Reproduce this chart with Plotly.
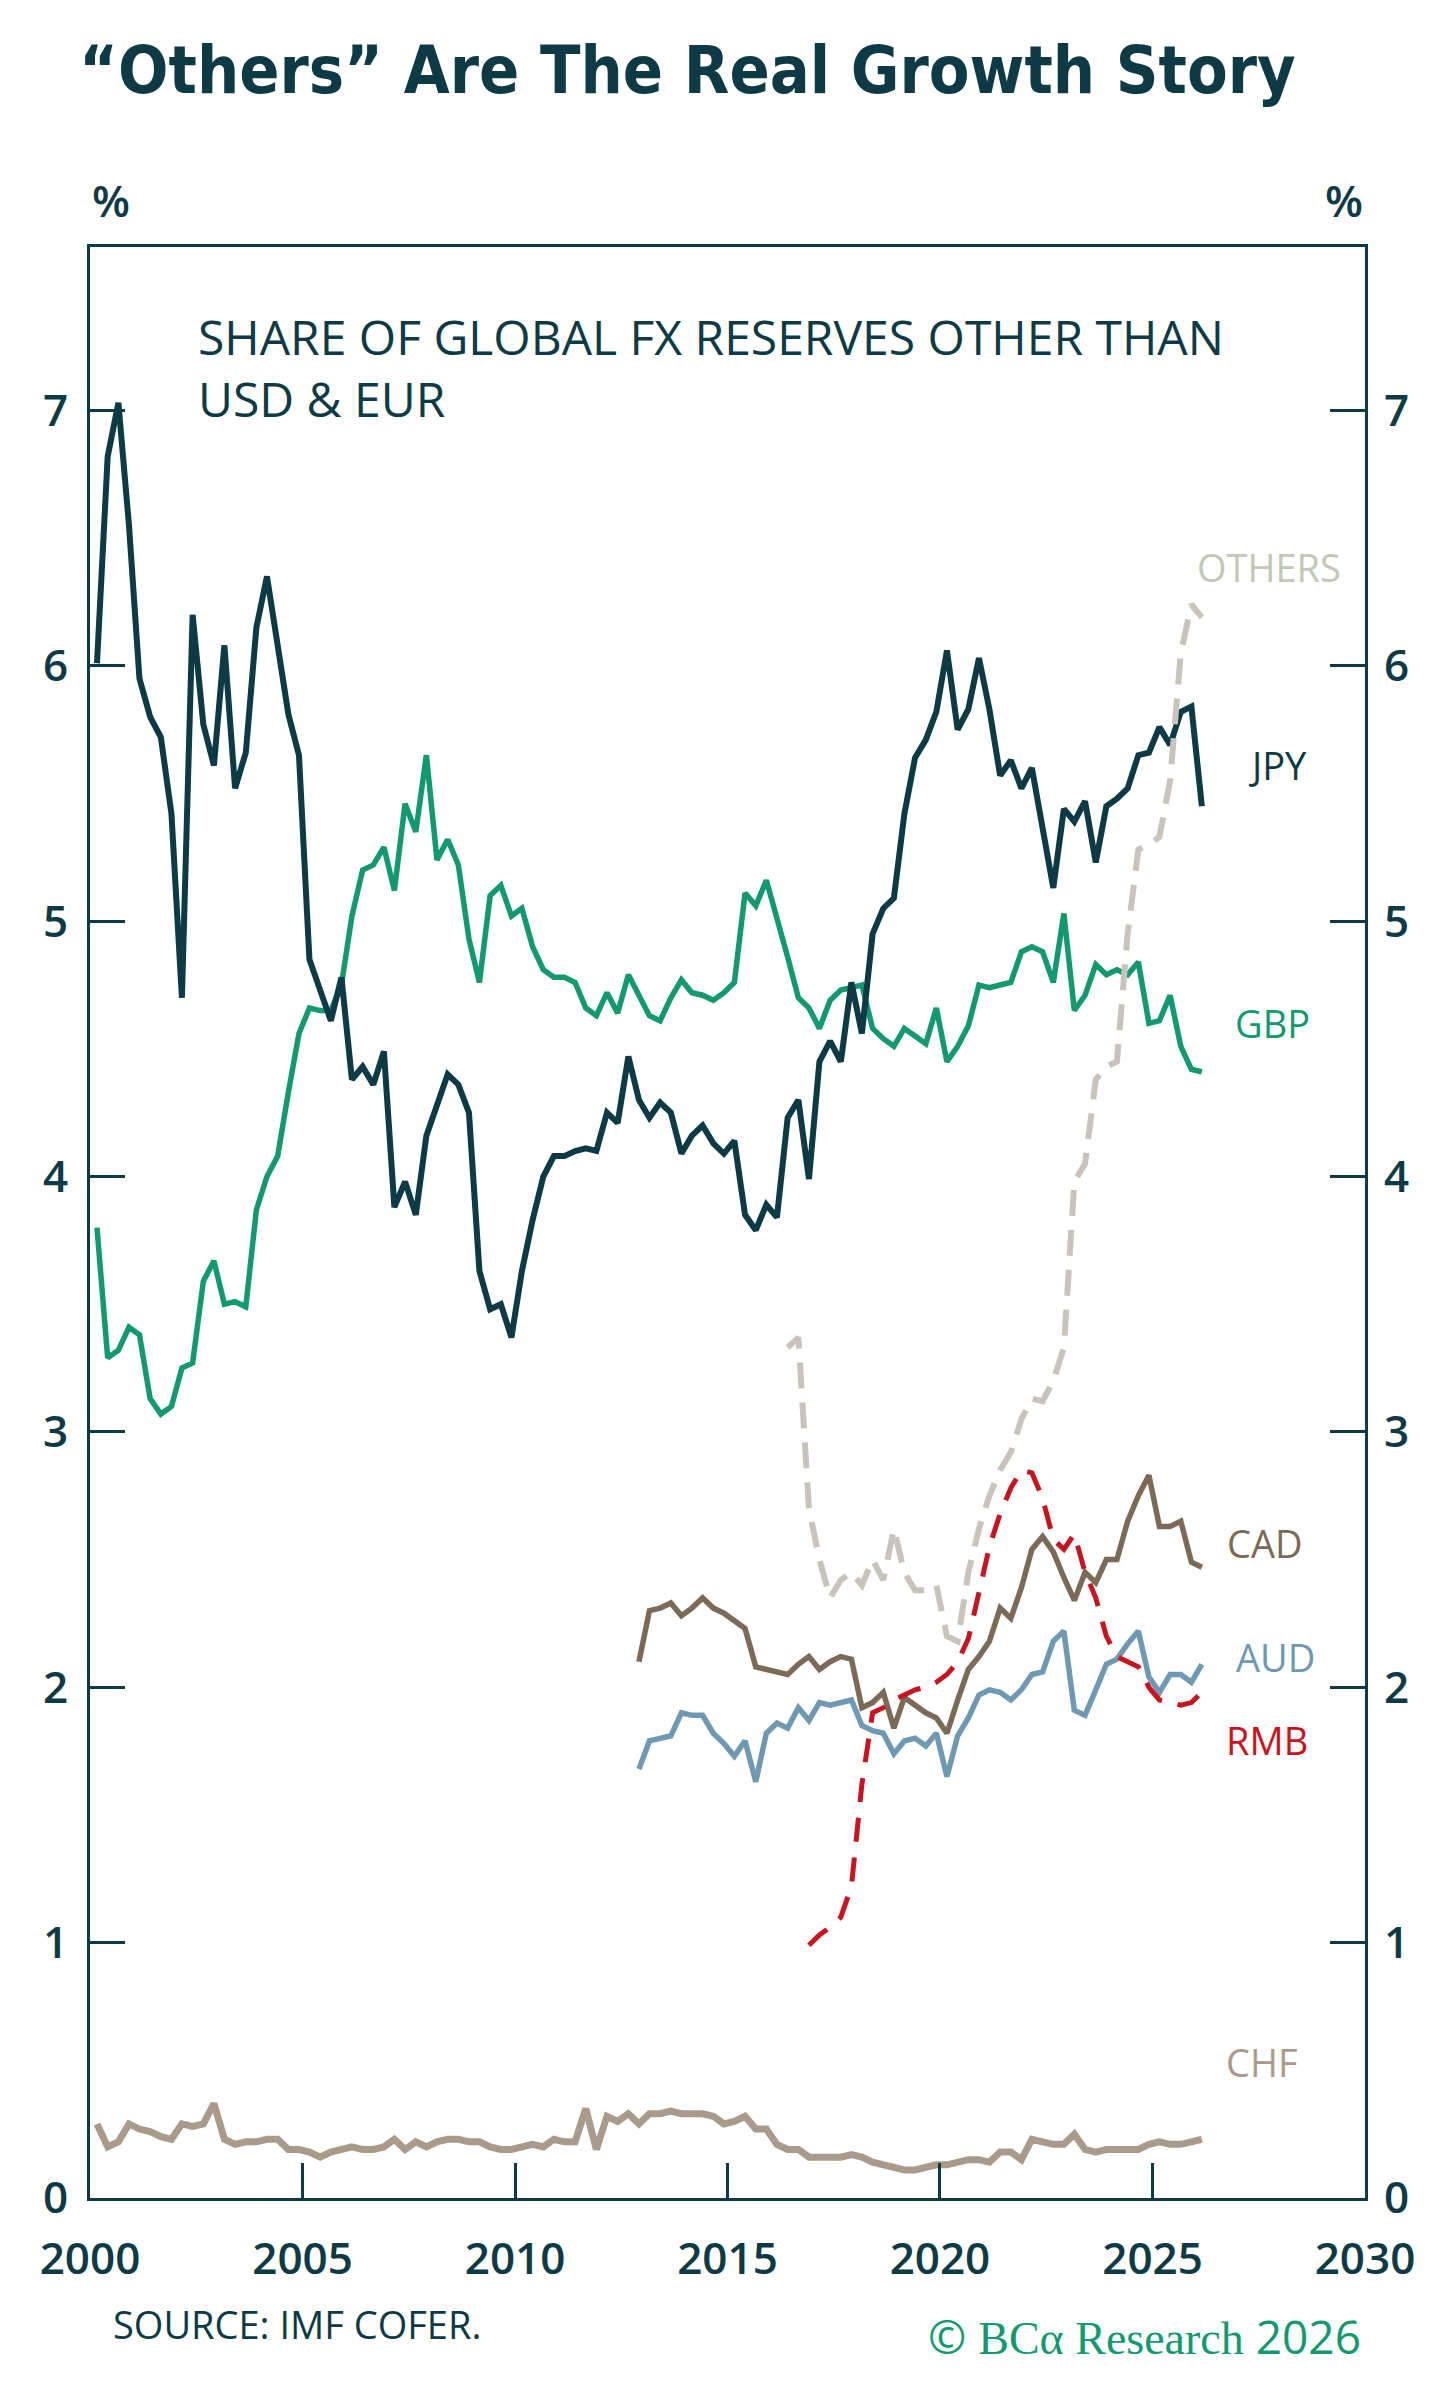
import pandas as pd
import plotly.graph_objects as go

# ---------------- data (quarterly, % share of global FX reserves) ----------------
dates = pd.date_range("2000-03-01", periods=105, freq="3MS")

jpy = [6.01, 6.82, 7.03, 6.55, 5.95, 5.80, 5.72, 5.42, 4.70, 6.20,
       5.77, 5.61, 6.08, 5.52, 5.66, 6.15, 6.35, 6.08, 5.81, 5.65,
       4.85, 4.73, 4.61, 4.78, 4.38, 4.43, 4.36, 4.49, 3.88, 3.98,
       3.85, 4.16, 4.28, 4.40, 4.36, 4.25, 3.63, 3.48, 3.50, 3.37,
       3.63, 3.83, 4.00, 4.08, 4.08, 4.10, 4.11, 4.10, 4.25, 4.21,
       4.47, 4.30, 4.23, 4.29, 4.25, 4.09, 4.16, 4.20, 4.13, 4.09,
       4.14, 3.85, 3.79, 3.89, 3.84, 4.23, 4.30, 3.99, 4.45, 4.53,
       4.45, 4.76, 4.56, 4.95, 5.05, 5.09, 5.42, 5.64, 5.71, 5.82,
       6.06, 5.75, 5.83, 6.03, 5.83, 5.57, 5.63, 5.52, 5.60, 5.37,
       5.13, 5.44, 5.39, 5.47, 5.23, 5.45, 5.48, 5.52, 5.65, 5.66,
       5.76, 5.69, 5.82, 5.84, 5.45]

gbp = [3.80, 3.29, 3.32, 3.41, 3.38, 3.13, 3.07, 3.10, 3.25, 3.27,
       3.59, 3.67, 3.50, 3.51, 3.49, 3.87, 4.00, 4.08, 4.33, 4.56,
       4.66, 4.65, 4.65, 4.75, 5.02, 5.20, 5.22, 5.29, 5.12, 5.46,
       5.35, 5.65, 5.24, 5.32, 5.22, 4.93, 4.76, 5.10, 5.14, 5.02,
       5.05, 4.90, 4.81, 4.78, 4.78, 4.76, 4.66, 4.63, 4.72, 4.64,
       4.79, 4.71, 4.63, 4.61, 4.70, 4.77, 4.72, 4.71, 4.69, 4.72,
       4.76, 5.11, 5.06, 5.16, 5.02, 4.86, 4.70, 4.66, 4.58, 4.69,
       4.73, 4.74, 4.75, 4.58, 4.54, 4.51, 4.58, 4.55, 4.52, 4.66,
       4.45, 4.51, 4.59, 4.75, 4.74, 4.75, 4.76, 4.88, 4.90, 4.88,
       4.76, 5.03, 4.65, 4.71, 4.83, 4.79, 4.81, 4.79, 4.84, 4.60,
       4.61, 4.71, 4.51, 4.42, 4.41]

chf = [0.29, 0.20, 0.22, 0.29, 0.27, 0.26, 0.24, 0.23, 0.29, 0.28,
       0.29, 0.37, 0.23, 0.21, 0.22, 0.22, 0.23, 0.23, 0.19, 0.19,
       0.18, 0.16, 0.18, 0.19, 0.20, 0.19, 0.19, 0.20, 0.23, 0.19,
       0.22, 0.20, 0.22, 0.23, 0.23, 0.22, 0.22, 0.20, 0.19, 0.19,
       0.20, 0.21, 0.20, 0.23, 0.22, 0.22, 0.35, 0.19, 0.32, 0.30,
       0.33, 0.29, 0.33, 0.33, 0.34, 0.33, 0.33, 0.33, 0.32, 0.29,
       0.30, 0.32, 0.27, 0.27, 0.21, 0.19, 0.19, 0.16, 0.16, 0.16,
       0.16, 0.17, 0.16, 0.14, 0.13, 0.12, 0.11, 0.11, 0.12, 0.13,
       0.13, 0.14, 0.15, 0.15, 0.14, 0.18, 0.18, 0.15, 0.23, 0.22,
       0.21, 0.21, 0.25, 0.19, 0.18, 0.19, 0.19, 0.19, 0.19, 0.21,
       0.22, 0.21, 0.21, 0.22, 0.23]

# series that start later (index into dates)
cad_start = 51
cad = [2.10, 2.30, 2.31, 2.33, 2.28, 2.31, 2.35, 2.31, 2.29, 2.26,
       2.23, 2.08, 2.07, 2.06, 2.05, 2.09, 2.12, 2.07, 2.10, 2.12,
       2.11, 1.92, 1.94, 1.98, 1.84, 1.96, 1.93, 1.90, 1.88, 1.82,
       1.95, 2.07, 2.12, 2.18, 2.31, 2.27, 2.39, 2.54, 2.59, 2.53,
       2.43, 2.34, 2.45, 2.41, 2.50, 2.50, 2.65, 2.75, 2.83, 2.63,
       2.63, 2.65, 2.49, 2.47]

aud_start = 51
aud = [1.68, 1.79, 1.80, 1.81, 1.90, 1.89, 1.89, 1.82, 1.78, 1.73,
       1.79, 1.63, 1.82, 1.86, 1.84, 1.92, 1.87, 1.94, 1.93, 1.94,
       1.95, 1.85, 1.83, 1.82, 1.74, 1.79, 1.80, 1.77, 1.82, 1.65,
       1.81, 1.88, 1.97, 1.99, 1.98, 1.95, 1.99, 2.05, 2.06, 2.18,
       2.22, 1.91, 1.89, 1.99, 2.09, 2.11, 2.17, 2.22, 2.04, 1.98,
       2.05, 2.05, 2.02, 2.09]

rmb_start = 67
rmb = [0.99, 1.03, 1.06, 1.10, 1.22, 1.62, 1.90, 1.92, 1.95, 1.97,
       1.99, 2.00, 2.02, 2.05, 2.10, 2.19, 2.38, 2.55, 2.68, 2.78,
       2.85, 2.84, 2.74, 2.58, 2.54, 2.60, 2.45, 2.35, 2.20, 2.12,
       2.10, 2.08, 2.00, 1.95, 1.94, 1.93, 1.94, 1.98]

others_start = 65
others = [3.33, 3.37, 2.70, 2.50, 2.35, 2.42, 2.45, 2.40, 2.50, 2.42,
          2.62, 2.45, 2.38, 2.38, 2.40, 2.20, 2.18, 2.45, 2.62, 2.75,
          2.85, 2.92, 3.05, 3.13, 3.12, 3.20, 3.33, 3.98, 4.05, 4.38,
          4.43, 4.45, 4.95, 5.28, 5.30, 5.33, 5.55, 6.05, 6.24, 6.19]

year_ticks = [2000, 2005, 2010, 2015, 2020, 2025, 2030]
y_ticks = [0, 1, 2, 3, 4, 5, 6, 7]

# ---------------- styling ----------------
DARK = "#0d3a44"
GREEN = "#12996f"
W, H = 1456, 2399
L, R, T, B = 90, 91, 247, 201
PW, PH = W - L - R, H - T - B
TICKFONT = dict(family="Open Sans", size=44, color=DARK, weight=600)


def px_x(px):
    return (px - L) / PW


def px_y(py):
    return (H - B - py) / PH


fig = go.Figure()


def add_line(x, y, color, width, dash="solid"):
    fig.add_trace(go.Scatter(x=x, y=y, mode="lines",
                             line=dict(color=color, width=width, dash=dash),
                             showlegend=False, hoverinfo="skip"))


add_line(dates, chf, "#a99b8b", 7)
add_line(dates, gbp, GREEN, 5.5)
add_line(dates, jpy, DARK, 6)
add_line(dates[aud_start:aud_start + len(aud)], aud, "#6f98b2", 5.5)
add_line(dates[cad_start:cad_start + len(cad)], cad, "#7b6a57", 5.5)
add_line(dates[rmb_start:rmb_start + len(rmb)], rmb, "#c8141e", 5, "24px,16px")
add_line(dates[others_start:others_start + len(others)], others, "#c9c4bb", 6, "26px,14px")

# invisible trace to carry the right-hand axis
fig.add_trace(go.Scatter(x=dates, y=jpy, yaxis="y2", mode="lines",
                         line=dict(width=0), opacity=0,
                         showlegend=False, hoverinfo="skip"))

yr = [0, 7.64]
fig.update_layout(
    width=W, height=H,
    margin=dict(l=L, r=R, t=T, b=B, pad=0),
    paper_bgcolor="white", plot_bgcolor="white",
    title=dict(text="<b>“Others” Are The Real Growth Story</b>",
               font=dict(family="DejaVu Sans Condensed, Liberation Sans Narrow, Open Sans",
                         size=66, color=DARK),
               x=79 / W, xanchor="left", xref="container",
               y=1 - 70 / H, yanchor="middle", yref="container"),
    xaxis=dict(type="date",
               range=["2000-01-01", "2030-01-01"],
               tickvals=[f"{y}-01-01" for y in year_ticks],
               ticktext=[str(y) for y in year_ticks],
               ticks="inside", ticklen=35, tickwidth=3, tickcolor=DARK,
               showline=True, linewidth=3, linecolor=DARK, mirror=True,
               showgrid=False, zeroline=False,
               tickfont=TICKFONT, ticklabelstandoff=20),
    yaxis=dict(range=yr, tickvals=y_ticks, ticktext=[str(v) for v in y_ticks],
               ticks="inside", ticklen=35, tickwidth=3, tickcolor=DARK,
               showline=True, linewidth=3, linecolor=DARK, mirror="ticks",
               showgrid=False, zeroline=False,
               tickfont=TICKFONT, ticklabelstandoff=10),
    yaxis2=dict(range=yr, overlaying="y", side="right",
                tickvals=y_ticks, ticktext=[str(v) for v in y_ticks],
                ticks="", showline=False, showgrid=False, zeroline=False,
                tickfont=TICKFONT, ticklabelstandoff=18),
)

ann = []
ann.append(dict(text="%", x=0, y=px_y(200), xanchor="left", yanchor="middle",
                font=dict(family="Open Sans", size=44, color=DARK, weight=600)))
ann.append(dict(text="%", x=1, y=px_y(200), xanchor="right", yanchor="middle",
                font=dict(family="Open Sans", size=44, color=DARK, weight=600)))
ann.append(dict(text="SHARE OF GLOBAL FX RESERVES OTHER THAN<br>USD & EUR",
                x=px_x(196), y=px_y(367), xanchor="left", yanchor="middle", align="left",
                font=dict(family="Open Sans", size=48, color=DARK, weight=500)))

labels = [("OTHERS", 1269, 567, "#c3c7b4"), ("JPY", 1277, 765, DARK),
          ("GBP", 1272, 1023, GREEN), ("CAD", 1265, 1543, "#7b6a57"),
          ("AUD", 1275, 1657, "#6f98b2"), ("RMB", 1267, 1740, "#c8141e"),
          ("CHF", 1262, 2062, "#a99b8b")]
for txt, px, py, col in labels:
    ann.append(dict(text=txt, x=px_x(px), y=px_y(py), xanchor="center", yanchor="middle",
                    font=dict(family="Open Sans", size=38, color=col, weight=500)))

ann.append(dict(text="SOURCE: IMF COFER.", x=px_x(111), y=px_y(2324),
                xanchor="left", yanchor="middle",
                font=dict(family="Open Sans", size=38, color=DARK, weight=500)))
ann.append(dict(text="© <span style='font-family:Liberation Serif'>BCα Research</span> 2026",
                x=px_x(1363), y=px_y(2336), xanchor="right", yanchor="middle",
                font=dict(family="Open Sans", size=46, color=GREEN)))

for a in ann:
    a.update(xref="paper", yref="paper", showarrow=False)
fig.update_layout(annotations=ann)

fig.write_html("out.html")
